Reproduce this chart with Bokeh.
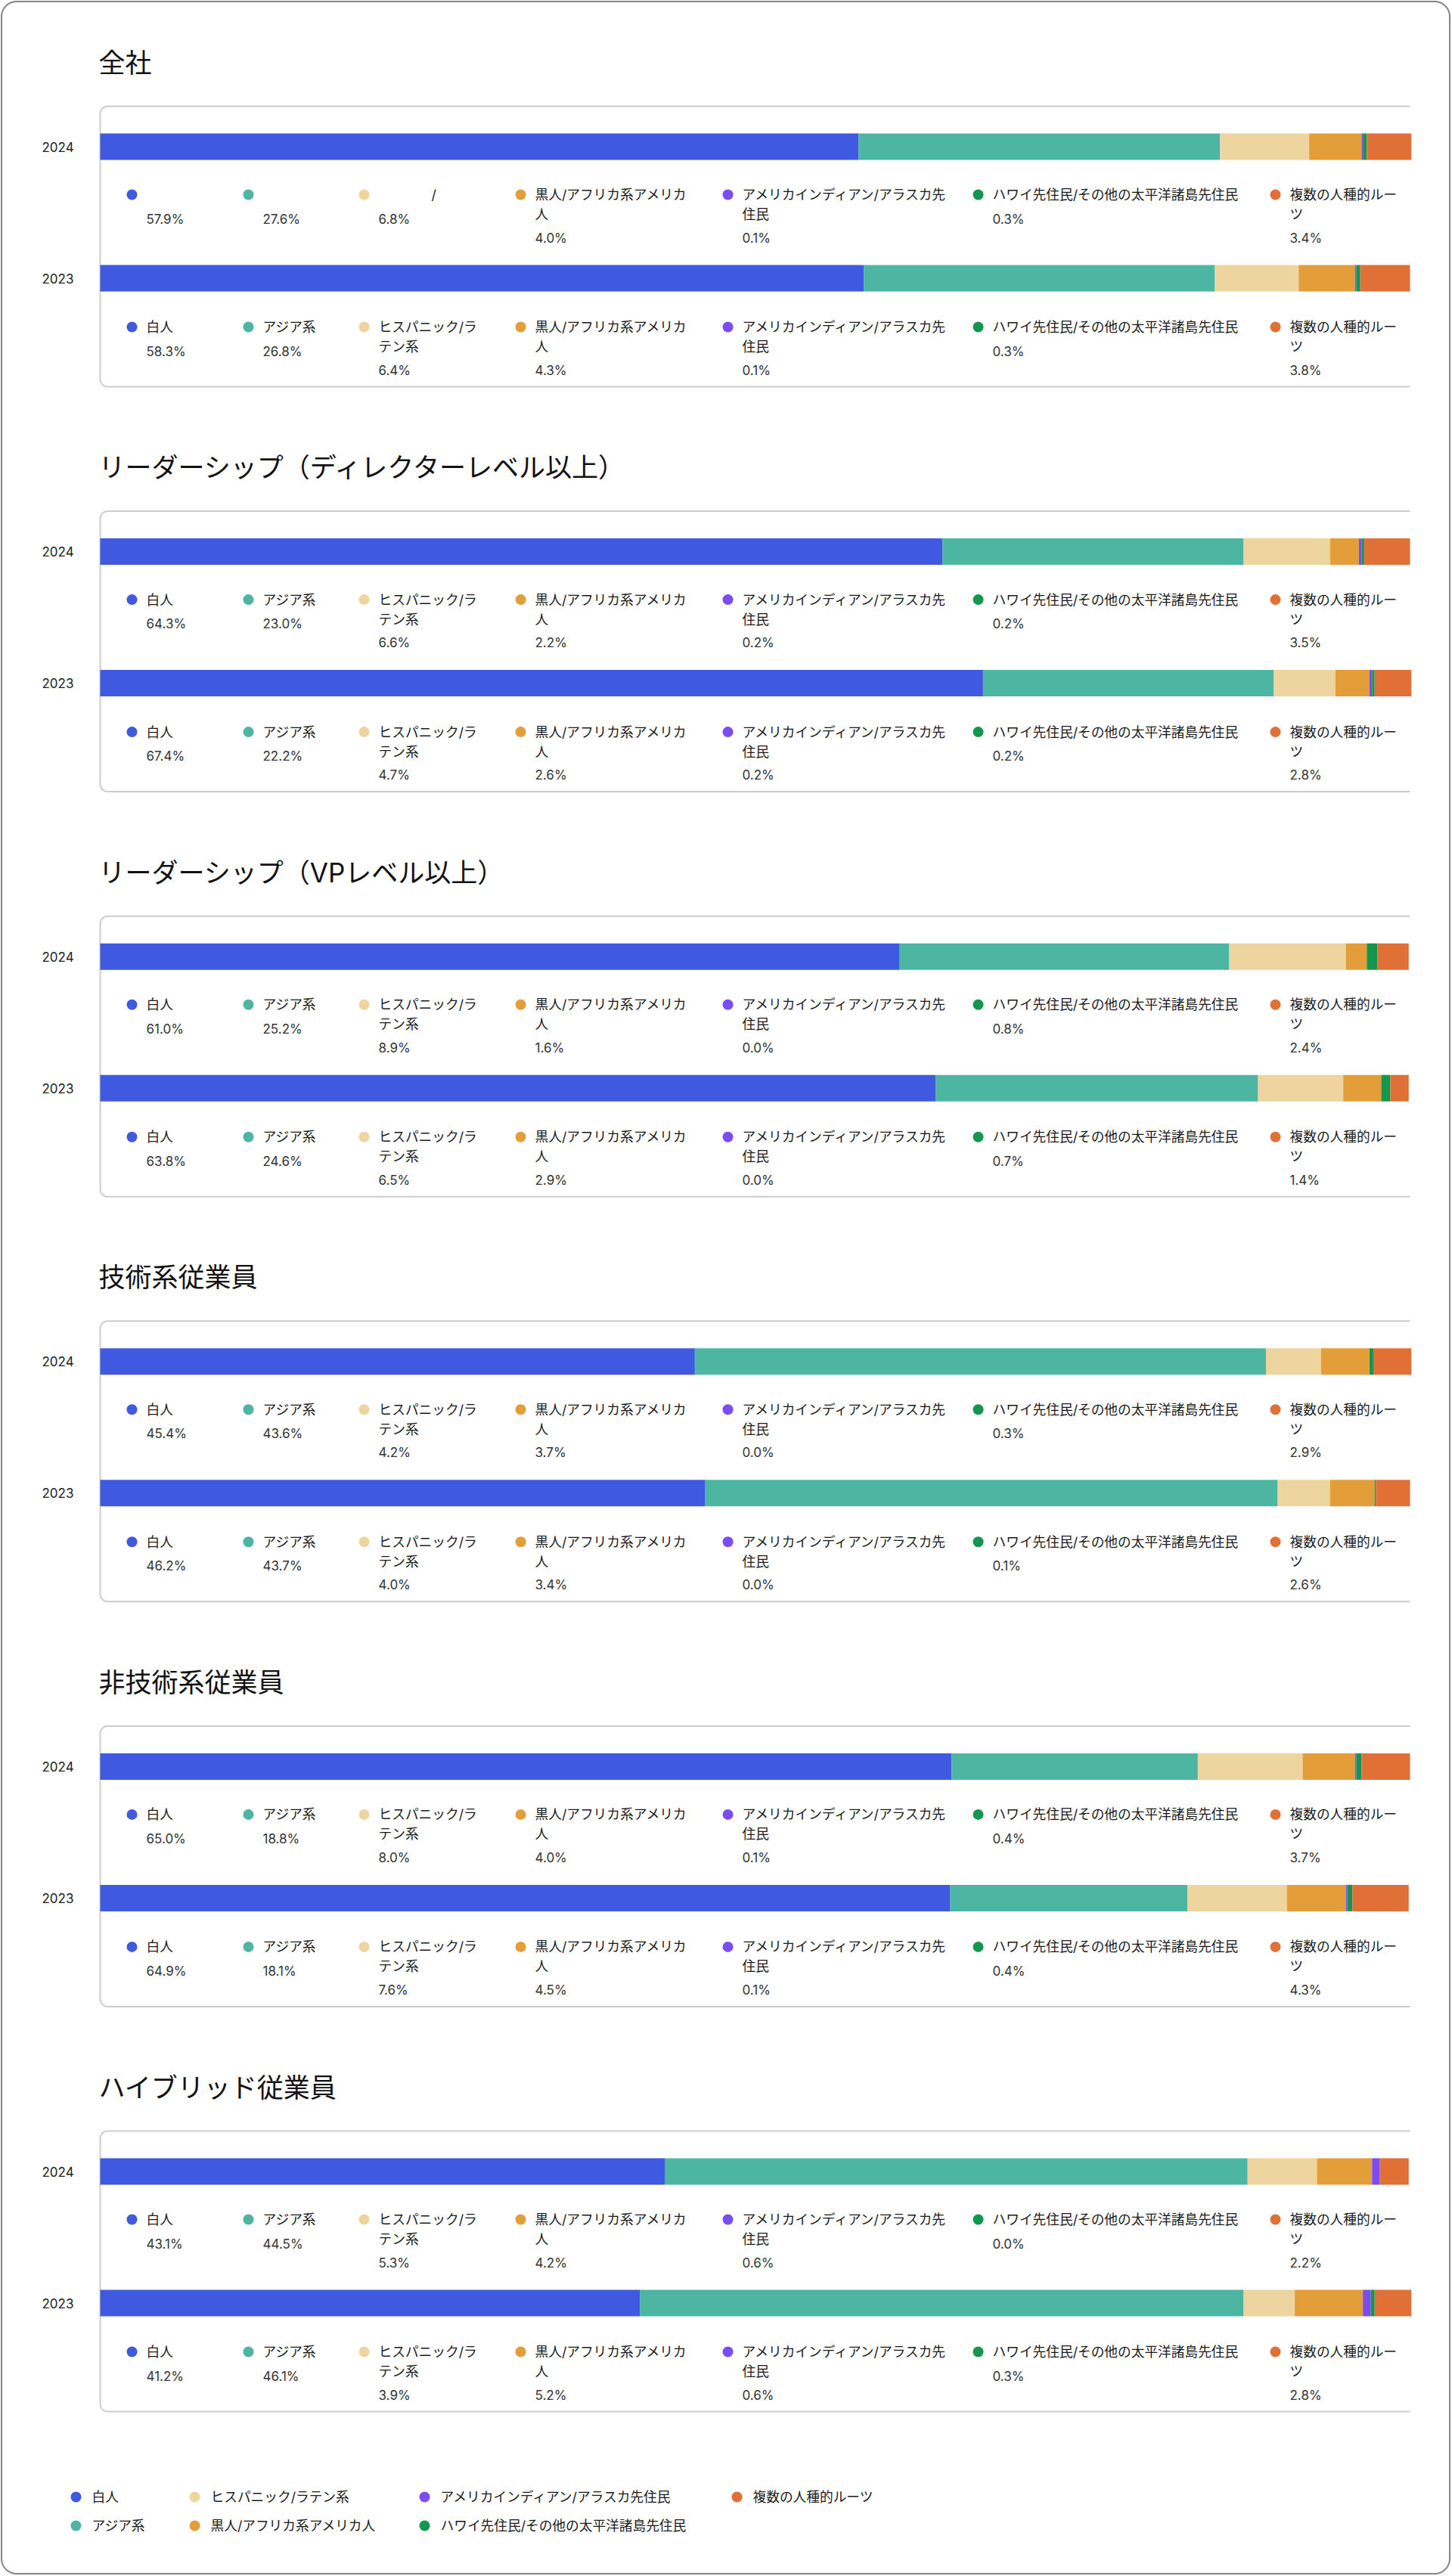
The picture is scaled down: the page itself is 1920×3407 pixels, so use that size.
import numpy as np
from bokeh.plotting import figure
from bokeh.models import Range1d, ColumnDataSource
from bokeh.core.properties import value
from bokeh.embed import file_html
from bokeh.resources import INLINE

# ---------------- data ----------------
sections = ["全社", "リーダーシップ（ディレクターレベル以上）", "リーダーシップ（VPレベル以上）",
            "技術系従業員", "非技術系従業員", "ハイブリッド従業員"]
years = ["2024", "2023"]
categories = ["白人", "アジア系", "ヒスパニック/ラテン系", "黒人/アフリカ系アメリカ人",
              "アメリカインディアン/アラスカ先住民", "ハワイ先住民/その他の太平洋諸島先住民", "複数の人種的ルーツ"]

all_2024 = [57.9, 27.6, 6.8, 4.0, 0.1, 0.3, 3.4]
all_2023 = [58.3, 26.8, 6.4, 4.3, 0.1, 0.3, 3.8]
director_2024 = [64.3, 23.0, 6.6, 2.2, 0.2, 0.2, 3.5]
director_2023 = [67.4, 22.2, 4.7, 2.6, 0.2, 0.2, 2.8]
vp_2024 = [61.0, 25.2, 8.9, 1.6, 0.0, 0.8, 2.4]
vp_2023 = [63.8, 24.6, 6.5, 2.9, 0.0, 0.7, 1.4]
tech_2024 = [45.4, 43.6, 4.2, 3.7, 0.0, 0.3, 2.9]
tech_2023 = [46.2, 43.7, 4.0, 3.4, 0.0, 0.1, 2.6]
nontech_2024 = [65.0, 18.8, 8.0, 4.0, 0.1, 0.4, 3.7]
nontech_2023 = [64.9, 18.1, 7.6, 4.5, 0.1, 0.4, 4.3]
hybrid_2024 = [43.1, 44.5, 5.3, 4.2, 0.6, 0.0, 2.2]
hybrid_2023 = [41.2, 46.1, 3.9, 5.2, 0.6, 0.3, 2.8]

section_values = [
    [all_2024, all_2023],
    [director_2024, director_2023],
    [vp_2024, vp_2023],
    [tech_2024, tech_2023],
    [nontech_2024, nontech_2023],
    [hybrid_2024, hybrid_2023],
]

# ---------------- styles / layout ----------------
colors = ["#3F5AE0", "#4DB6A2", "#EED49E", "#E39E3A", "#7A4DF2", "#14964F", "#E07035"]
FONT = "Inter, 'Noto Sans CJK JP', sans-serif"

W, H = 1918, 3405
X0, X1 = 0, W
Y0, Y1 = 0, H
BAR_X0, BAR_X1 = 132, 1864
STEP = 535.6
TITLE_Y = 82
BOX_TOP, BOX_BOTTOM = 140, 511
BAR_CY = [193.5, 367.5]
BAR_H = 35
LEG_Y = [257, 432]
LINE2, VAL1, VAL2 = 26, 32, 57
DOT_X = [174, 328, 481, 688, 962, 1293, 1686]
TXT_DX = 19
WRAP = {2: 8, 3: 12, 4: 16, 6: 8}   # char index where the label wraps

# rendering quirk of the reference: first legend row of the first section
QUIRK = {(0, 0): {0: [], 1: [], 2: [("/", 570)]}}

BOT_ROWS = [3302, 3340]
BOT_DOT_X = [100, 257, 561, 974]
BOT_TXT_DX = 21

pct_per_px = 100.0 / (BAR_X1 - BAR_X0)

p = figure(width=W, height=H, x_range=Range1d(X0, X1), y_range=Range1d(Y1, Y0),
           output_backend="svg", toolbar_location=None, min_border=0,
           x_axis_location=None, y_axis_location=None)
p.extra_x_ranges = {"pct": Range1d((X0 - BAR_X0) * pct_per_px, (X1 - BAR_X0) * pct_per_px)}
p.grid.visible = False
p.outline_line_color = None
p.background_fill_color = "white"
p.border_fill_color = "white"


def rounded_outline(x0, y0, x1, y1, r, closed=True, n=16):
    xs, ys = [], []
    def arc(cx, cy, a0, a1):
        t = np.linspace(a0, a1, n)
        xs.extend(cx + r * np.cos(t))
        ys.extend(cy + r * np.sin(t))
    if closed:
        arc(x0 + r, y0 + r, np.pi, 1.5 * np.pi)
        arc(x1 - r, y0 + r, 1.5 * np.pi, 2 * np.pi)
        arc(x1 - r, y1 - r, 0, 0.5 * np.pi)
        arc(x0 + r, y1 - r, 0.5 * np.pi, np.pi)
        xs.append(xs[0]); ys.append(ys[0])
    else:
        xs.append(x1); ys.append(y0)
        arc(x0 + r, y0 + r, 1.5 * np.pi, np.pi)
        arc(x0 + r, y1 - r, np.pi, 0.5 * np.pi)
        xs.append(x1); ys.append(y1)
    return list(xs), list(ys)


# outer frame
ox, oy = rounded_outline(X0 + 1.5, Y0 + 1.5, X1 - 1.5, Y1 - 1.5, 20)
p.line(ox, oy, line_color="#858585", line_width=2)

bars = dict(y=[], left=[], right=[], color=[])
dots = dict(x=[], y=[], color=[])
labels = dict(x=[], y=[], text=[])
vals = dict(x=[], y=[], text=[])
years_src = dict(x=[], y=[], text=[])
titles = dict(x=[], y=[], text=[])

for s, name in enumerate(sections):
    off = s * STEP
    titles["x"].append(130); titles["y"].append(off + TITLE_Y); titles["text"].append(name)
    bx, by = rounded_outline(BAR_X0, off + BOX_TOP, BAR_X1, off + BOX_BOTTOM, 10, closed=False)
    p.line(bx, by, line_color="#cccccc", line_width=2)
    for j, yr in enumerate(years):
        vals_list = section_values[s][j]
        cy = off + BAR_CY[j]
        years_src["x"].append(55); years_src["y"].append(cy); years_src["text"].append(yr)
        cum = 0.0
        for k, v in enumerate(vals_list):
            bars["y"].append(cy); bars["left"].append(cum); bars["right"].append(cum + v)
            bars["color"].append(colors[k])
            cum += v
        ly = off + LEG_Y[j]
        quirk = QUIRK.get((s, j), {})
        for k, cat in enumerate(categories):
            dots["x"].append(DOT_X[k]); dots["y"].append(ly); dots["color"].append(colors[k])
            tx = DOT_X[k] + TXT_DX
            if k in quirk:
                for t, qx in quirk[k]:
                    labels["x"].append(qx); labels["y"].append(ly); labels["text"].append(t)
                nlines = 1
            else:
                if k in WRAP:
                    lines = [cat[:WRAP[k]], cat[WRAP[k]:]]
                else:
                    lines = [cat]
                for li, t in enumerate(lines):
                    labels["x"].append(tx); labels["y"].append(ly + li * LINE2); labels["text"].append(t)
                nlines = len(lines)
            vals["x"].append(tx)
            vals["y"].append(ly + (VAL1 if nlines == 1 else VAL2))
            vals["text"].append(f"{vals_list[k]:.1f}%")

p.hbar(y="y", left="left", right="right", height=BAR_H, fill_color="color", line_color=None,
       x_range_name="pct", source=ColumnDataSource(bars))
p.scatter(x="x", y="y", size=14, marker="circle", fill_color="color", line_color=None,
          source=ColumnDataSource(dots))
p.text(x="x", y="y", text="text", source=ColumnDataSource(titles), text_font=value(FONT),
       text_font_size="35px", text_color="#111111", text_baseline="middle", text_align="left")
p.text(x="x", y="y", text="text", source=ColumnDataSource(years_src), text_font=value(FONT),
       text_font_size="17px", text_color="#222222", text_baseline="middle", text_align="left")
p.text(x="x", y="y", text="text", source=ColumnDataSource(labels), text_font=value(FONT),
       text_font_size="17.7px", text_color="#1a1a1a", text_baseline="middle", text_align="left")
p.text(x="x", y="y", text="text", source=ColumnDataSource(vals), text_font=value(FONT),
       text_font_size="17px", text_color="#333333", text_baseline="middle", text_align="left")

# bottom legend (column-major, two rows)
bdots = dict(x=[], y=[], color=[])
btext = dict(x=[], y=[], text=[])
for k, cat in enumerate(categories):
    col, row = divmod(k, 2)
    bdots["x"].append(BOT_DOT_X[col]); bdots["y"].append(BOT_ROWS[row]); bdots["color"].append(colors[k])
    btext["x"].append(BOT_DOT_X[col] + BOT_TXT_DX); btext["y"].append(BOT_ROWS[row]); btext["text"].append(cat)
p.scatter(x="x", y="y", size=14, marker="circle", fill_color="color", line_color=None,
          source=ColumnDataSource(bdots))
p.text(x="x", y="y", text="text", source=ColumnDataSource(btext), text_font=value(FONT),
       text_font_size="17.7px", text_color="#1a1a1a", text_baseline="middle", text_align="left")

open("out.html", "w").write(file_html(p, INLINE))
